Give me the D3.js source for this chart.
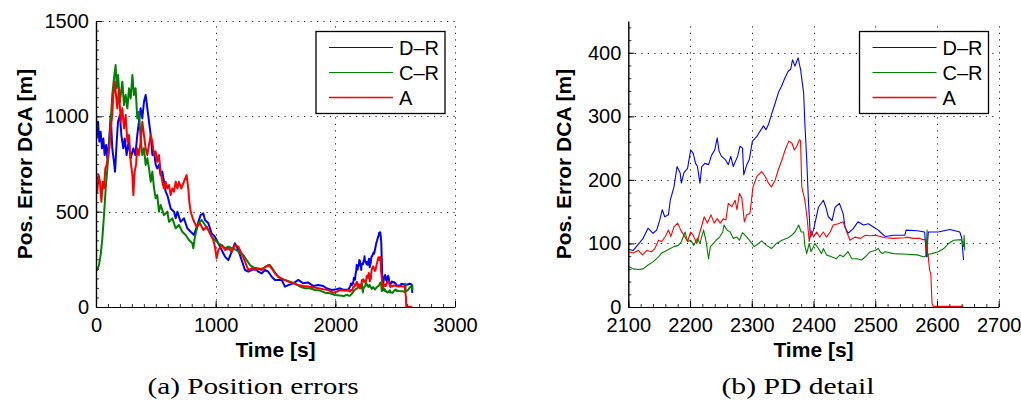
<!DOCTYPE html>
<html>
<head>
<meta charset="utf-8">
<script src="https://cdn.jsdelivr.net/npm/d3@7/dist/d3.min.js"></script>
<style>
  html, body { margin: 0; padding: 0; background: #fff; }
  svg { display: block; }
</style>
</head>
<body>
<svg id="chart" width="1021" height="401"></svg>
<script>
// Position error of the DCA estimate for the three schemes, [time s, error m]
const seriesNames = ["D\u2013R", "C\u2013R", "A"];
const seriesColors = ["#0000ff", "#008000", "#ff0000"];

const drData = [
  [0,1030],[5,884],[17,972],[28,867],[39,919],[50,832],[61,884],[72,797],[84,850],[95,780],
  [109,867],[123,1007],[136,832],[150,762],[159,710],[173,867],[184,972],[200,1007],[212,902],
  [228,832],[240,884],[256,797],[273,867],[290,780],[312,832],[329,797],[345,902],[359,972],
  [373,1042],[387,989],[401,1077],[415,1112],[429,1042],[443,972],[457,902],[471,797],[485,815],
  [499,745],[512,727],[526,745],[540,692],[554,710],[568,657],[582,605],[596,587],[610,552],
  [624,517],[652,500],[666,465],[680,500],[707,447],[735,465],[763,413],[791,395],[819,378],
  [847,430],[874,482],[897,491],[911,456],[939,439],[966,386],[994,369],[1022,334],[1050,299],
  [1078,264],[1106,246],[1134,290],[1161,334],[1189,299],[1217,246],[1245,194],[1273,185],
  [1301,194],[1329,203],[1356,185],[1384,176],[1412,194],[1440,185],[1468,159],[1496,142],
  [1523,142],[1551,142],[1579,107],[1607,115],[1649,124],[1691,142],[1732,124],[1774,128],
  [1816,110],[1858,115],[1899,110],[1927,98],[1969,89],[2011,93],[2039,98],[2070,90],
  [2100,91],[2108,89],[2113,95],[2124,108],[2132,124],[2140,116],[2146,121],[2151,137],
  [2155,153],[2159,142],[2165,145],[2168,168],[2174,189],[2179,221],[2184,211],[2186,195],
  [2190,211],[2196,218],[2201,247],[2205,242],[2209,226],[2212,221],[2216,195],[2219,221],
  [2224,226],[2230,224],[2235,239],[2240,247],[2244,266],[2247,245],[2251,237],[2257,232],
  [2262,224],[2266,237],[2270,221],[2277,237],[2281,253],[2285,250],[2287,208],[2292,224],
  [2296,232],[2301,261],[2308,268],[2313,276],[2319,285],[2323,279],[2327,287],[2332,303],
  [2338,321],[2343,337],[2348,347],[2354,361],[2359,371],[2363,374],[2366,389],[2370,379],
  [2375,392],[2379,374],[2384,337],[2386,289],[2389,232],[2392,163],[2395,110],[2400,121],
  [2408,157],[2416,168],[2420,157],[2424,142],[2430,136],[2435,157],[2442,163],[2448,147],
  [2451,126],[2456,116],[2464,123],[2472,134],[2481,129],[2489,131],[2497,126],[2505,121],
  [2508,118],[2516,111],[2530,113],[2548,113],[2550,121],[2568,120],[2580,118],[2583,79],
  [2586,118],[2602,118],[2621,122],[2637,118],[2640,109],[2643,74]
];

const crData = [
  [0,194],[11,194],[25,220],[39,273],[53,360],[67,482],[81,622],[95,727],[109,832],[123,972],
  [136,1112],[150,1199],[164,1269],[173,1147],[184,1217],[200,1077],[220,1182],[234,1059],
  [248,1112],[262,1042],[276,1147],[290,1094],[304,1217],[317,1112],[331,1147],[345,989],
  [359,1024],[373,884],[387,797],[401,832],[415,745],[429,780],[443,727],[457,657],[471,710],
  [485,622],[499,570],[512,587],[526,500],[540,535],[568,482],[596,500],[610,447],[638,465],
  [666,413],[693,430],[721,395],[749,378],[777,351],[805,334],[813,308],[827,369],[855,439],
  [883,456],[911,430],[939,404],[966,369],[994,351],[1022,334],[1050,325],[1078,308],[1106,316],
  [1134,308],[1175,299],[1203,281],[1231,273],[1259,246],[1287,220],[1315,208],[1343,203],
  [1370,198],[1398,203],[1426,215],[1454,220],[1482,194],[1510,168],[1537,150],[1579,142],
  [1621,133],[1663,124],[1705,107],[1746,98],[1788,98],[1830,89],[1872,86],[1913,75],[1955,72],
  [1997,63],[2039,60],[2070,58],
  [2100,64],[2108,60],[2116,59],[2124,60],[2132,66],[2140,71],[2149,79],[2154,85],[2162,89],
  [2168,92],[2174,95],[2181,97],[2186,103],[2192,118],[2196,103],[2201,105],[2206,97],[2212,108],
  [2216,100],[2222,121],[2226,103],[2230,76],[2233,95],[2238,100],[2242,105],[2248,110],
  [2253,118],[2255,129],[2260,121],[2265,118],[2270,108],[2276,110],[2280,105],[2285,117],
  [2292,110],[2298,103],[2304,95],[2311,100],[2316,104],[2324,97],[2332,92],[2340,100],
  [2349,105],[2357,108],[2365,113],[2370,118],[2376,129],[2380,118],[2384,118],[2386,97],
  [2389,84],[2393,100],[2396,87],[2400,95],[2402,100],[2408,92],[2413,84],[2416,92],[2421,82],
  [2429,79],[2437,76],[2443,82],[2448,79],[2456,87],[2462,76],[2470,76],[2478,74],[2484,79],
  [2492,87],[2500,89],[2505,92],[2508,87],[2512,84],[2516,87],[2530,84],[2551,83],[2568,82],
  [2578,79],[2582,80],[2584,121],[2585,79],[2586,83],[2592,84],[2602,87],[2611,92],[2619,100],
  [2627,105],[2640,106],[2643,95],[2644,113],[2645,89]
];

const aData = [
  [0,710],[11,605],[22,692],[33,657],[45,552],[56,657],[67,622],[78,727],[89,745],[100,797],
  [111,832],[123,937],[136,1007],[145,1112],[156,1182],[167,1112],[178,1042],[192,1147],
  [206,972],[220,1042],[234,937],[248,1007],[262,867],[276,902],[290,762],[304,692],[312,587],
  [323,710],[334,745],[345,832],[359,797],[373,867],[387,972],[401,902],[415,832],[429,797],
  [443,850],[457,902],[471,867],[485,797],[499,815],[512,762],[526,797],[540,710],[554,657],
  [568,622],[582,657],[596,622],[610,640],[624,587],[638,622],[652,605],[666,657],[680,622],
  [693,657],[713,622],[735,657],[757,692],[771,622],[780,552],[791,500],[813,456],[841,421],
  [869,439],[897,404],[925,421],[953,386],[980,351],[994,316],[1008,255],[1022,299],[1050,325],
  [1078,299],[1106,308],[1134,290],[1161,325],[1189,316],[1217,281],[1245,238],[1273,194],
  [1301,203],[1329,194],[1356,203],[1384,194],[1412,208],[1440,220],[1468,203],[1496,176],
  [1523,159],[1565,145],[1607,133],[1649,124],[1691,115],[1732,110],[1774,107],[1816,103],
  [1858,98],[1899,93],[1941,89],[1983,75],[2011,80],[2039,89],[2070,85],
  [2100,87],[2108,85],[2116,89],[2123,82],[2130,89],[2138,87],[2143,92],[2149,105],[2154,103],
  [2160,111],[2165,121],[2169,111],[2174,126],[2180,132],[2185,121],[2190,113],[2196,103],
  [2201,118],[2205,113],[2211,100],[2216,118],[2223,142],[2228,132],[2234,145],[2239,132],
  [2244,139],[2249,132],[2254,139],[2258,137],[2262,163],[2268,158],[2273,168],[2276,153],
  [2280,179],[2284,171],[2288,134],[2292,145],[2297,147],[2302,189],[2308,205],[2316,213],
  [2322,205],[2327,195],[2332,189],[2338,200],[2343,216],[2349,232],[2354,247],[2360,261],
  [2365,258],[2369,247],[2373,253],[2377,263],[2379,262],[2381,189],[2386,168],[2390,137],
  [2393,103],[2396,120],[2400,110],[2405,118],[2410,110],[2416,118],[2421,110],[2427,118],
  [2432,129],[2440,131],[2448,134],[2454,118],[2459,105],[2467,110],[2476,108],[2484,113],
  [2492,112],[2500,113],[2508,111],[2516,109],[2530,108],[2548,109],[2551,110],[2562,108],
  [2572,108],[2576,106],[2581,106],[2583,92],[2586,79],[2588,58],[2590,53],[2592,6],[2594,1],
  [2643,1]
];

// Axis ticks
const leftXTicks = [0, 1000, 2000, 3000];
const leftYTicks = [0, 500, 1000, 1500];
const rightXTicks = [2100, 2200, 2300, 2400, 2500, 2600, 2700];
const rightYTicks = [0, 100, 200, 300, 400];

const xLabel = "Time [s]";
const yLabel = "Pos. Error DCA [m]";
const captions = ["(a) Position errors", "(b) PD detail"];

const allSeries = [drData, crData, aData];

const SANS = "'Liberation Sans'";
const SERIF = "'Liberation Serif'";

const svg = d3.select("#chart");

const panels = [
  { left: 96, right: 455, top: 21, bottom: 307,
    xDomain: [0, 3000], yDomain: [0, 1500],
    xTicks: leftXTicks, yTicks: leftYTicks,
    xMinor: d3.range(0, 3001, 100), yMinor: d3.range(0, 1501, 50),
    lineWidth: 2, yLabelX: 32, caption: captions[0], captionX: 253, captionW: 211,
    legend: { x: 316, y: 31.5, w: 129, h: 82 } },
  { left: 628.3, right: 998.7, top: 21, bottom: 307,
    xDomain: [2100, 2700], yDomain: [0, 450],
    xTicks: rightXTicks, yTicks: rightYTicks,
    xMinor: d3.range(2100, 2701, 20), yMinor: d3.range(0, 451, 20),
    lineWidth: 1.1, yLabelX: 571, caption: captions[1], captionX: 798, captionW: 153,
    legend: { x: 859.5, y: 31.5, w: 129, h: 82 } }
];

panels.forEach((p, pi) => {
  const x = d3.scaleLinear().domain(p.xDomain).range([p.left, p.right]);
  const y = d3.scaleLinear().domain(p.yDomain).range([p.bottom, p.top]);
  const g = svg.append("g");

  // dotted grid at the major ticks
  const grid = g.append("g").attr("stroke", "#222").attr("stroke-width", 1)
    .attr("stroke-dasharray", "1.2,5.3").attr("fill", "none");
  p.yTicks.filter(v => v > p.yDomain[0]).forEach(v => {
    grid.append("line").attr("x1", p.left).attr("x2", p.right)
      .attr("y1", Math.round(y(v)) + 0.5).attr("y2", Math.round(y(v)) + 0.5);
  });
  p.xTicks.filter(v => v > p.xDomain[0]).forEach(v => {
    grid.append("line").attr("y1", p.bottom).attr("y2", p.top)
      .attr("x1", Math.round(x(v)) + 0.5).attr("x2", Math.round(x(v)) + 0.5);
  });

  // data lines
  const clipId = "clip" + pi;
  svg.append("clipPath").attr("id", clipId).append("rect")
    .attr("x", p.left).attr("y", p.top - 2)
    .attr("width", p.right - p.left).attr("height", p.bottom - p.top + 2);
  const line = d3.line().x(d => x(d[0])).y(d => y(d[1]));
  const lines = g.append("g").attr("clip-path", `url(#${clipId})`);
  allSeries.forEach((data, si) => {
    const pts = data.filter((d, i) => {
      const nxt = data[i + 1];
      return d[0] >= p.xDomain[0] || (nxt && nxt[0] >= p.xDomain[0]);
    });
    lines.append("path").datum(pts)
      .attr("fill", "none")
      .attr("stroke", seriesColors[si])
      .attr("stroke-width", p.lineWidth)
      .attr("stroke-linejoin", "round")
      .attr("d", line);
  });

  // minor ticks (inward)
  g.append("g").attr("transform", `translate(0,${p.bottom})`)
    .call(d3.axisBottom(x).tickValues(p.xMinor).tickSize(-3).tickFormat(""))
    .call(a => a.select(".domain").remove())
    .call(a => a.selectAll("line").attr("stroke", "#333"));
  g.append("g").attr("transform", `translate(${p.left},0)`)
    .call(d3.axisLeft(y).tickValues(p.yMinor).tickSize(-3).tickFormat(""))
    .call(a => a.select(".domain").remove())
    .call(a => a.selectAll("line").attr("stroke", "#333"));

  // major axes
  const xa = g.append("g").attr("transform", `translate(0,${p.bottom})`)
    .call(d3.axisBottom(x).tickValues(p.xTicks).tickSize(-6).tickSizeOuter(0).tickPadding(11).tickFormat(d3.format("d")));
  xa.select(".domain").attr("stroke", "#000").attr("stroke-width", 1.2);
  const ya = g.append("g").attr("transform", `translate(${p.left},0)`)
    .call(d3.axisLeft(y).tickValues(p.yTicks).tickSize(-6).tickSizeOuter(0).tickPadding(7).tickFormat(d3.format("d")));
  ya.select(".domain").attr("stroke", "#000").attr("stroke-width", 1.4);
  [xa, ya].forEach(a => a.selectAll("text")
    .style("font-family", SANS).style("font-size", "20px").attr("fill", "#000"));

  // axis titles
  g.append("text")
    .attr("x", (p.left + p.right) / 2).attr("y", 357)
    .attr("text-anchor", "middle")
    .style("font-family", SANS).style("font-weight", "bold").style("font-size", "21px")
    .text(xLabel);
  g.append("text")
    .attr("transform", `translate(${p.yLabelX},${(p.top + p.bottom) / 2}) rotate(-90)`)
    .attr("text-anchor", "middle")
    .style("font-family", SANS).style("font-weight", "bold").style("font-size", "21px")
    .text(yLabel);

  // caption
  g.append("text")
    .attr("x", p.captionX).attr("y", 394)
    .attr("text-anchor", "middle")
    .style("font-family", SERIF).style("font-size", "24px")
    .attr("textLength", p.captionW).attr("lengthAdjust", "spacingAndGlyphs")
    .text(p.caption);

  // legend
  const L = p.legend;
  const lg = g.append("g");
  lg.append("rect").attr("x", L.x).attr("y", L.y).attr("width", L.w).attr("height", L.h)
    .attr("fill", "#fff").attr("stroke", "#000").attr("stroke-width", 1.3);
  seriesNames.forEach((name, si) => {
    const ry = L.y + 16 + si * 25;
    lg.append("line").attr("x1", L.x + 13).attr("x2", L.x + 77)
      .attr("y1", ry).attr("y2", ry)
      .attr("stroke", seriesColors[si]).attr("stroke-width", si === 2 ? 1.6 : 1.2);
    lg.append("text").attr("x", L.x + 83).attr("y", ry + 7.5)
      .style("font-family", SANS).style("font-size", "20px")
      .text(name);
  });
});
</script>
</body>
</html>
